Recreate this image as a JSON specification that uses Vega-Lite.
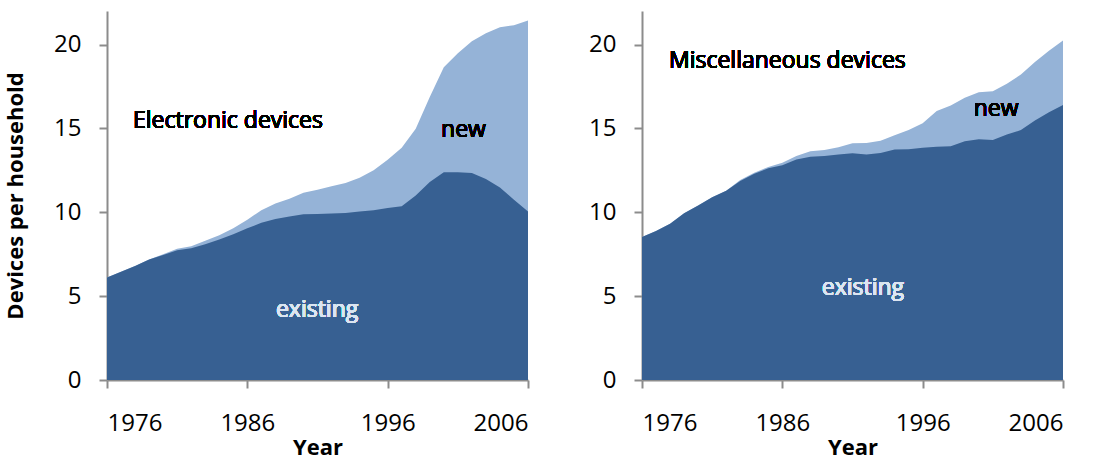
{
  "$schema": "https://vega.github.io/schema/vega-lite/v6.json",
  "background": "white",
  "padding": {"left": 4, "top": 11, "right": 5, "bottom": 5},
  "spacing": 114,
  "bounds": "flush",
  "config": {
    "view": {"stroke": null},
    "font": "Open Sans",
    "axis": {
      "grid": false,
      "domainColor": "#8c8c8c",
      "domainWidth": 2,
      "tickColor": "#8c8c8c",
      "tickWidth": 2,
      "tickSize": 8,
      "labelFont": "Open Sans",
      "labelFontSize": 24,
      "labelColor": "#000000",
      "titleFont": "Open Sans",
      "titleFontSize": 22,
      "titleFontWeight": "bold",
      "titleColor": "#000000"
    },
    "axisY": {"labelPadding": 18, "titlePadding": 26},
    "axisX": {"labelPadding": 23, "titlePadding": 2}
  },
  "datasets": {
    "electronic": [
      {"year": 1976, "existing": 6.11, "total": 6.11},
      {"year": 1977, "existing": 6.45, "total": 6.45},
      {"year": 1978, "existing": 6.8, "total": 6.8},
      {"year": 1979, "existing": 7.18, "total": 7.18},
      {"year": 1980, "existing": 7.45, "total": 7.5},
      {"year": 1981, "existing": 7.74, "total": 7.82},
      {"year": 1982, "existing": 7.86, "total": 7.98},
      {"year": 1983, "existing": 8.1, "total": 8.3},
      {"year": 1984, "existing": 8.37, "total": 8.63},
      {"year": 1985, "existing": 8.69, "total": 9.05},
      {"year": 1986, "existing": 9.05, "total": 9.56},
      {"year": 1987, "existing": 9.37, "total": 10.12},
      {"year": 1988, "existing": 9.6, "total": 10.52},
      {"year": 1989, "existing": 9.75, "total": 10.81},
      {"year": 1990, "existing": 9.88, "total": 11.17},
      {"year": 1991, "existing": 9.9, "total": 11.35},
      {"year": 1992, "existing": 9.92, "total": 11.55},
      {"year": 1993, "existing": 9.96, "total": 11.75},
      {"year": 1994, "existing": 10.05, "total": 12.06},
      {"year": 1995, "existing": 10.12, "total": 12.5},
      {"year": 1996, "existing": 10.25, "total": 13.13},
      {"year": 1997, "existing": 10.36, "total": 13.85},
      {"year": 1998, "existing": 11.0, "total": 14.98},
      {"year": 1999, "existing": 11.8, "total": 16.87},
      {"year": 2000, "existing": 12.38, "total": 18.65},
      {"year": 2001, "existing": 12.38, "total": 19.48},
      {"year": 2002, "existing": 12.34, "total": 20.2},
      {"year": 2003, "existing": 11.98, "total": 20.67},
      {"year": 2004, "existing": 11.47, "total": 21.03},
      {"year": 2005, "existing": 10.75, "total": 21.15},
      {"year": 2006, "existing": 10.04, "total": 21.43}
    ],
    "misc": [
      {"year": 1976, "existing": 8.52, "total": 8.52},
      {"year": 1977, "existing": 8.88, "total": 8.88},
      {"year": 1978, "existing": 9.31, "total": 9.31},
      {"year": 1979, "existing": 9.94, "total": 9.94},
      {"year": 1980, "existing": 10.41, "total": 10.41},
      {"year": 1981, "existing": 10.89, "total": 10.89},
      {"year": 1982, "existing": 11.28, "total": 11.28},
      {"year": 1983, "existing": 11.87, "total": 11.93},
      {"year": 1984, "existing": 12.3, "total": 12.36},
      {"year": 1985, "existing": 12.62, "total": 12.7},
      {"year": 1986, "existing": 12.81, "total": 12.95},
      {"year": 1987, "existing": 13.15, "total": 13.35},
      {"year": 1988, "existing": 13.31, "total": 13.64},
      {"year": 1989, "existing": 13.35, "total": 13.72},
      {"year": 1990, "existing": 13.44, "total": 13.88},
      {"year": 1991, "existing": 13.52, "total": 14.11},
      {"year": 1992, "existing": 13.44, "total": 14.13},
      {"year": 1993, "existing": 13.54, "total": 14.27},
      {"year": 1994, "existing": 13.74, "total": 14.59},
      {"year": 1995, "existing": 13.76, "total": 14.9},
      {"year": 1996, "existing": 13.84, "total": 15.31},
      {"year": 1997, "existing": 13.9, "total": 16.04},
      {"year": 1998, "existing": 13.94, "total": 16.36},
      {"year": 1999, "existing": 14.23, "total": 16.83},
      {"year": 2000, "existing": 14.35, "total": 17.15},
      {"year": 2001, "existing": 14.31, "total": 17.22},
      {"year": 2002, "existing": 14.63, "total": 17.66},
      {"year": 2003, "existing": 14.9, "total": 18.21},
      {"year": 2004, "existing": 15.47, "total": 18.96},
      {"year": 2005, "existing": 15.96, "total": 19.63},
      {"year": 2006, "existing": 16.4, "total": 20.24}
    ]
  },
  "hconcat": [
    {
      "width": 421,
      "height": 369,
      "data": {"name": "electronic"},
      "encoding": {
        "x": {"field": "year", "type": "quantitative", "scale": {"domain": [1976, 2006], "nice": false, "zero": false}, "axis": {"values": [1976, 1986, 1996, 2006], "format": "d", "title": "Year"}}
      },
      "layer": [
        {"mark": {"type": "area", "color": "#95b3d7"}, "encoding": {"y": {"field": "total", "type": "quantitative", "scale": {"domain": [0, 22], "nice": false}, "axis": {"values": [0, 5, 10, 15, 20], "title": "Devices per household"}}}},
        {"mark": {"type": "area", "color": "#376092"}, "encoding": {"y": {"field": "existing", "type": "quantitative"}}},
        {"mark": {"type": "text", "align": "left", "baseline": "alphabetic", "fontSize": 23, "color": "#000000", "text": "Electronic devices"}, "encoding": {"x": {"datum": 1977.85, "type": "quantitative"}, "y": {"datum": 15.0, "type": "quantitative"}}},
        {"mark": {"type": "text", "align": "center", "baseline": "alphabetic", "fontSize": 23, "color": "#000000", "text": "new"}, "encoding": {"x": {"datum": 2001.4, "type": "quantitative"}, "y": {"datum": 14.48, "type": "quantitative"}}},
        {"mark": {"type": "text", "align": "center", "baseline": "alphabetic", "fontSize": 23, "color": "#dce6f2", "text": "existing"}, "encoding": {"x": {"datum": 1990.97, "type": "quantitative"}, "y": {"datum": 3.77, "type": "quantitative"}}}
      ]
    },
    {
      "width": 421,
      "height": 369,
      "data": {"name": "misc"},
      "encoding": {
        "x": {"field": "year", "type": "quantitative", "scale": {"domain": [1976, 2006], "nice": false, "zero": false}, "axis": {"values": [1976, 1986, 1996, 2006], "format": "d", "title": "Year"}}
      },
      "layer": [
        {"mark": {"type": "area", "color": "#95b3d7"}, "encoding": {"y": {"field": "total", "type": "quantitative", "scale": {"domain": [0, 22], "nice": false}, "axis": {"values": [0, 5, 10, 15, 20], "title": null}}}},
        {"mark": {"type": "area", "color": "#376092"}, "encoding": {"y": {"field": "existing", "type": "quantitative"}}},
        {"mark": {"type": "text", "align": "left", "baseline": "alphabetic", "fontSize": 23, "color": "#000000", "text": "Miscellaneous devices"}, "encoding": {"x": {"datum": 1977.92, "type": "quantitative"}, "y": {"datum": 18.6, "type": "quantitative"}}},
        {"mark": {"type": "text", "align": "center", "baseline": "alphabetic", "fontSize": 23, "color": "#000000", "text": "new"}, "encoding": {"x": {"datum": 2001.23, "type": "quantitative"}, "y": {"datum": 15.74, "type": "quantitative"}}},
        {"mark": {"type": "text", "align": "center", "baseline": "alphabetic", "fontSize": 23, "color": "#dce6f2", "text": "existing"}, "encoding": {"x": {"datum": 1991.74, "type": "quantitative"}, "y": {"datum": 5.09, "type": "quantitative"}}}
      ]
    }
  ]
}
